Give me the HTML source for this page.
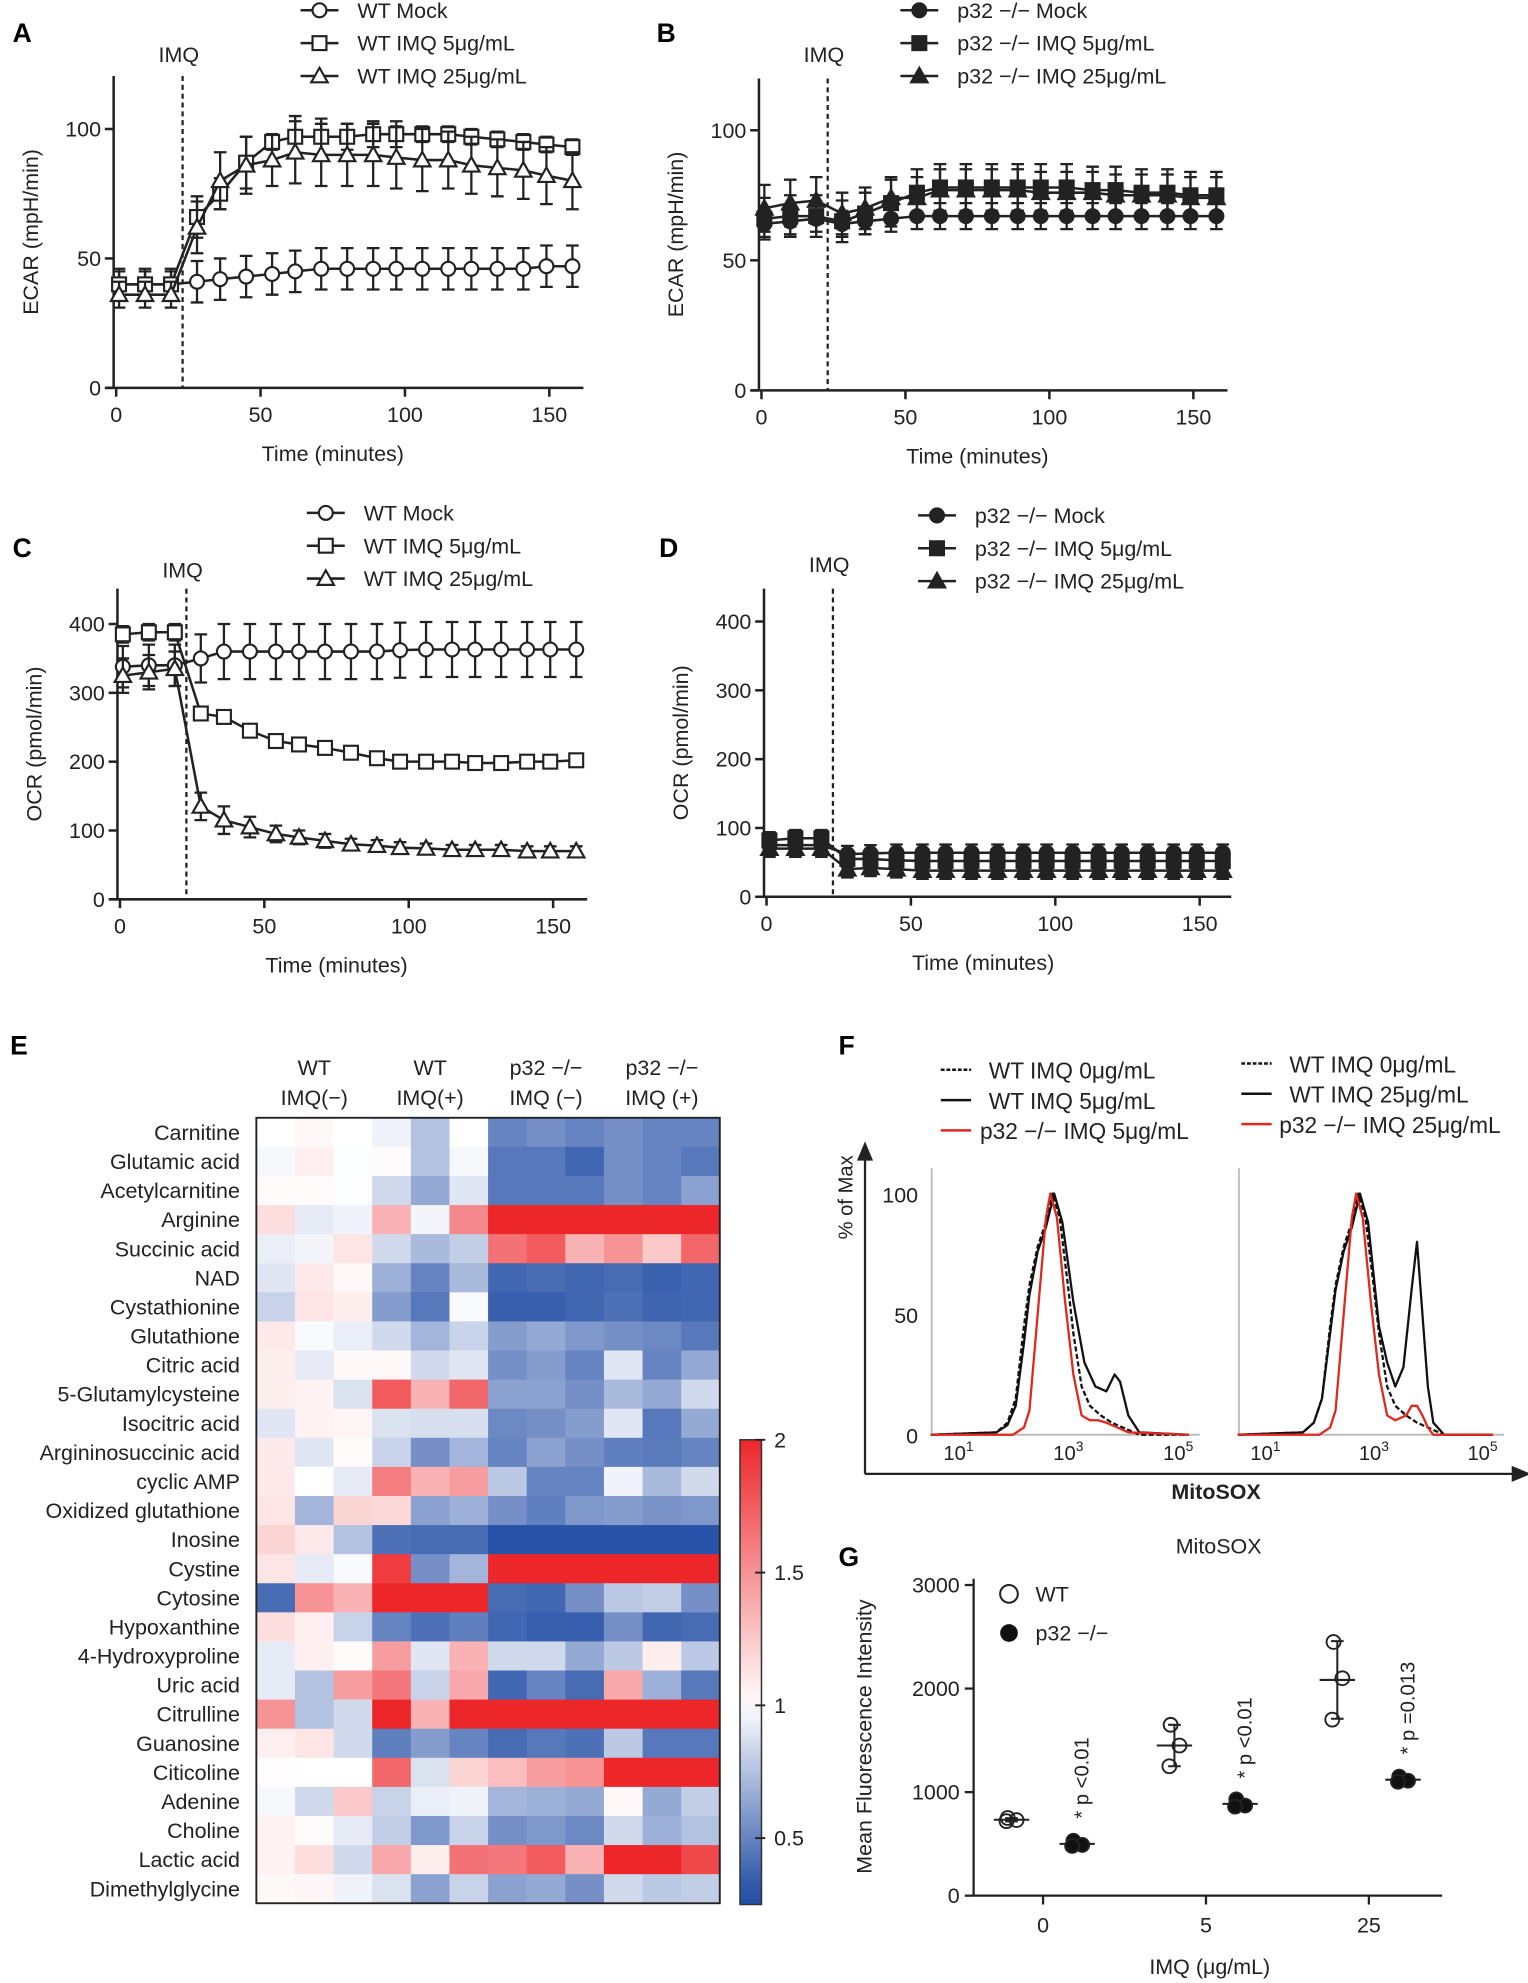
<!DOCTYPE html>
<html><head><meta charset="utf-8"><style>
html,body{margin:0;padding:0;background:#fff}
svg{display:block;font-family:"Liberation Sans",sans-serif}
</style></head><body>
<svg id="fig" width="1528" height="1983" viewBox="0 0 1210 1570" xmlns="http://www.w3.org/2000/svg">
</svg>
<script>
// ---------- DATA ----------
const times=[1,10,19,28,36,45,54,62,71,80,89,97,106,115,123,132,141,149,158];
const aMock=[40,40,40,41,42,43,44,45,46,46,46,46,46,46,46,46,46,47,47];
const aMockErr=[6,6,6,8,8,8,8,8,8,8,8,8,8,8,8,8,8,8,8];
const a5=[40,40,40,66,75,87,95,97,97,97,98,98,98,98,97,96,95,94,93];
const a5Err=[5,5,5,8,6,10,3,8,7,5,5,5,3,3,3,3,3,3,3];
const a25=[36,36,36,62,80,86,88,91,90,90,90,89,88,88,86,85,84,82,80];
const a25Err=[5,5,5,10,11,11,10,12,12,12,12,12,12,11,11,11,11,11,11];
const bMock=[64,65,66,64,65,66,67,67,67,67,67,67,67,67,67,67,67,67,67];
const bMockErr=[5,5,5,5,5,5,5,5,5,5,5,5,5,5,5,5,5,5,5];
const b5=[66,67,67,65,68,72,76,78,78,78,78,78,78,77,77,76,76,75,75];
const b5Err=[8,8,8,8,8,9,9,9,9,9,9,9,9,9,9,9,9,9,9];
const b25=[70,72,73,68,70,74,74,77,77,77,77,76,76,76,75,75,75,74,74];
const b25Err=[9,9,9,8,8,8,8,8,8,8,8,8,8,8,8,8,8,8,8];
const cMock=[338,340,340,350,360,360,360,360,360,360,360,362,363,363,363,363,363,363,363];
const cMockErr=[30,30,30,35,40,40,40,40,40,40,40,40,40,40,40,40,40,40,40];
const c5=[385,388,388,270,265,245,230,225,220,213,205,200,200,200,198,198,200,200,202];
const c5Err=[12,12,12,6,6,6,5,5,5,5,5,5,5,5,5,5,5,5,5];
const c25=[325,330,335,135,115,105,95,90,85,80,78,75,74,72,72,72,70,70,70];
const c25Err=[25,25,25,20,20,15,12,10,10,8,8,8,7,7,7,7,7,7,7];
const dMock=[75,75,75,62,63,64,64,64,64,64,64,64,64,64,64,64,64,64,64];
const d5=[82,85,85,55,55,53,52,52,52,52,52,52,52,52,52,52,52,52,52];
const d25=[70,70,70,40,42,40,38,38,38,38,38,38,38,38,38,38,38,38,38];
const dErr=[12,12,12,12,12,12,12,12,12,12,12,12,12,12,12,12,12,12,12];

const metabolites=["Carnitine","Glutamic acid","Acetylcarnitine","Arginine","Succinic acid","NAD","Cystathionine","Glutathione","Citric acid","5-Glutamylcysteine","Isocitric acid","Argininosuccinic acid","cyclic AMP","Oxidized glutathione","Inosine","Cystine","Cytosine","Hypoxanthine","4-Hydroxyproline","Uric acid","Citrulline","Guanosine","Citicoline","Adenine","Choline","Lactic acid","Dimethylglycine"];
const heat=[
[1.0,1.03,1.0,0.95,0.75,1.0,0.5,0.55,0.5,0.55,0.5,0.5],
[0.97,1.07,0.99,1.02,0.75,0.97,0.45,0.45,0.38,0.55,0.5,0.45],
[1.02,1.02,0.99,0.85,0.65,0.9,0.45,0.45,0.45,0.55,0.5,0.62],
[1.15,0.92,0.95,1.35,0.96,1.55,2,2,2,2,2,2],
[0.93,0.96,1.12,0.85,0.72,0.8,1.65,1.75,1.35,1.5,1.25,1.7],
[0.9,1.1,1.03,0.68,0.5,0.72,0.38,0.4,0.38,0.4,0.36,0.38],
[0.82,1.12,1.08,0.6,0.45,0.98,0.35,0.35,0.38,0.42,0.37,0.38],
[1.1,0.98,0.93,0.85,0.7,0.82,0.6,0.65,0.58,0.55,0.52,0.45],
[1.08,0.92,1.03,1.03,0.85,0.9,0.55,0.6,0.5,0.9,0.5,0.65],
[1.08,1.06,0.88,1.75,1.35,1.7,0.62,0.62,0.55,0.72,0.65,0.85],
[0.9,1.06,1.04,0.88,0.87,0.87,0.52,0.55,0.6,0.9,0.45,0.65],
[1.1,0.9,1.02,0.82,0.55,0.7,0.5,0.62,0.55,0.48,0.46,0.5],
[1.1,1.0,0.92,1.6,1.35,1.45,0.78,0.5,0.5,0.95,0.72,0.85],
[1.12,0.7,1.2,1.18,0.62,0.68,0.55,0.48,0.58,0.6,0.56,0.58],
[1.2,1.1,0.75,0.42,0.4,0.4,0.3,0.3,0.3,0.3,0.3,0.3],
[1.12,0.92,0.98,1.9,0.55,0.7,2,2,2,2,2,2],
[0.4,1.5,1.35,2,2,2,0.4,0.38,0.55,0.78,0.8,0.55],
[1.15,1.07,0.82,0.5,0.42,0.48,0.38,0.35,0.35,0.55,0.38,0.4],
[0.92,1.07,1.02,1.45,0.9,1.35,0.85,0.85,0.65,0.78,1.08,0.78],
[0.92,0.75,1.45,1.62,0.82,1.4,0.38,0.5,0.4,1.4,0.68,0.45],
[1.5,0.75,0.85,2,1.35,2,2,2,2,2,2,2],
[1.07,1.12,0.85,0.48,0.6,0.5,0.4,0.45,0.42,0.78,0.45,0.45],
[1.01,1.0,1.0,1.7,0.88,1.2,1.3,1.45,1.5,2,2,2],
[0.97,0.85,1.25,0.82,0.93,0.95,0.7,0.68,0.65,1.03,0.65,0.8],
[1.06,1.02,0.92,0.8,0.58,0.82,0.55,0.58,0.52,0.85,0.68,0.75],
[1.06,1.15,0.85,1.4,1.08,1.65,1.62,1.75,1.35,2,2,1.85],
[1.03,1.04,0.95,0.88,0.62,0.82,0.62,0.65,0.55,0.85,0.78,0.8]];
const colorbarTicks=[2,1.5,1,0.5];

const hDashLog=[0.4,1.6,1.8,1.95,2.1,2.2,2.35,2.5,2.62,2.75,2.9,3.0,3.15,3.3,3.5,3.7,3.9,4.2,5.1];
const hDashY=[0,1,5,15,45,62,78,88,100,90,62,42,20,12,8,5,3,0,0];
const h5Log=[0.4,1.6,1.8,1.95,2.1,2.2,2.35,2.5,2.65,2.8,3.0,3.2,3.4,3.6,3.75,3.85,4.0,4.2,5.1];
const h5Y=[0,1,4,12,38,58,76,86,100,88,55,30,20,18,25,22,8,1,0];
const hRed5Log=[0.4,1.9,2.1,2.2,2.35,2.5,2.58,2.7,2.85,3.0,3.15,3.3,3.45,3.6,3.8,4.0,5.1];
const hRed5Y=[0,0,3,10,50,90,100,90,55,25,8,6,6,5,3,1,0];
const h25Log=[0.4,1.6,1.8,1.95,2.1,2.2,2.35,2.5,2.65,2.8,3.0,3.15,3.3,3.45,3.6,3.7,3.8,3.9,4.0,4.2,5.1];
const h25Y=[0,1,5,15,42,60,76,86,100,88,45,30,20,28,60,80,50,20,5,0,0];
const hRed25Log=[0.4,1.9,2.1,2.2,2.35,2.5,2.58,2.7,2.85,3.0,3.15,3.3,3.5,3.6,3.7,3.8,3.9,4.0,5.1];
const hRed25Y=[0,0,3,10,50,90,100,90,55,25,8,6,8,12,12,8,3,0,0];

const gDoses=["0","5","25"];
const gWT=[[750,730,720],[1650,1450,1250],[2450,2100,1700]];
const gP32=[[530,490,480],[930,870,860],[1150,1110,1100]];
const gLabels=["p <0.01","p <0.01","p =0.013"];

// ---------- HELPERS ----------
const NS="http://www.w3.org/2000/svg";
const svg=document.getElementById('fig');
function mk(tag,attrs,parent){const e=document.createElementNS(NS,tag);for(const k in attrs)e.setAttribute(k,attrs[k]);(parent||svg).appendChild(e);return e;}
function txt(x,y,s,size,anchor,extra,parent){const e=mk('text',Object.assign({x:x,y:y,'font-size':size,'text-anchor':anchor||'start',fill:'#222'},extra||{}),parent);e.textContent=s;return e;}

[["A",10,33],["B",520,33],["C",10,441],["D",522,441],["E",8,835],["F",664,835],["G",664,1240]].forEach(p=>{
 const e=txt(p[1],p[2],p[0],21,'start',{'font-weight':'bold',fill:'#000'});
 
 
});

function marker(g,kind,filled,x,y){
 const f=filled?'#222':'#fff';let e;
 if(kind==='c')e=mk('circle',{cx:x,cy:y,r:5.5,fill:f,stroke:'#222','stroke-width':1.7},g);
 else if(kind==='s')e=mk('rect',{x:x-5.5,y:y-5.5,width:11,height:11,fill:f,stroke:'#222','stroke-width':1.7},g);
 else e=mk('path',{d:`M${x},${y-6.5} L${x+6.5},${y+5} L${x-6.5},${y+5} Z`,fill:f,stroke:'#222','stroke-width':1.7},g);
 return e;
}

function lineChart(c){
 const g=mk('g',{});
 
 
 const X=t=>c.x0+(c.x150-c.x0)*t/150;
 const Y=v=>c.y0+(c.yTop-c.y0)*v/c.vTop;
 const ya=mk('line',{x1:c.x0-2,y1:c.axTop,x2:c.x0-2,y2:c.y0,stroke:'#222','stroke-width':2},g);
 
 
 const xa=mk('line',{x1:c.x0-8,y1:c.y0,x2:c.xEnd,y2:c.y0,stroke:'#222','stroke-width':2},g);
 
 
 c.yTicks.forEach(v=>{mk('line',{x1:c.x0-9,y1:Y(v),x2:c.x0-2,y2:Y(v),stroke:'#222','stroke-width':2},g);
  const t=txt(c.x0-12,Y(v)+6,String(v),17,'end',{},g);
  
  });
 [0,50,100,150].forEach(v=>{mk('line',{x1:X(v),y1:c.y0,x2:X(v),y2:c.y0+7,stroke:'#222','stroke-width':2},g);
  const t=txt(X(v),c.y0+27,String(v),17,'middle',{},g);
  
  });
 const xl=txt((X(0)+X(150))/2,c.y0+58,'Time (minutes)',17,'middle',{},g);
 
 
 const cy=(c.axTop+c.y0)/2;
 const yl=txt(c.x0-62,cy,c.ylabel,17,'middle',{transform:`rotate(-90 ${c.x0-62} ${cy})`},g);
 
 
 const il=mk('line',{x1:X(23),y1:c.axTop,x2:X(23),y2:c.y0,stroke:'#222','stroke-width':1.8,'stroke-dasharray':'4,3'},g);
 
 
 const it=txt(X(23)-3,c.imqY,'IMQ',17,'middle',{},g);
 
 
 c.series.forEach((s,si)=>{
  const sg=mk('g',{},g);
  
  
  s.err.forEach((e,i)=>{const x=X(times[i]);
   mk('path',{d:`M${x},${Y(s.v[i]-e)}V${Y(s.v[i]+e)}M${x-5},${Y(s.v[i]-e)}h10M${x-5},${Y(s.v[i]+e)}h10`,stroke:'#222','stroke-width':1.8,fill:'none'},sg);});
  const p=mk('polyline',{points:s.v.map((v,i)=>X(times[i])+','+Y(v)).join(' '),fill:'none',stroke:'#222','stroke-width':2},sg);
  
  
  s.v.forEach((v,i)=>{const m=marker(sg,s.m,c.filled,X(times[i]),Y(v));
   
   });
  const ly=c.legY+si*26;
  const lg=mk('g',{},g);
  
  
  mk('line',{x1:c.legX,y1:ly,x2:c.legX+30,y2:ly,stroke:'#222','stroke-width':2},lg);
  marker(lg,s.m,c.filled,c.legX+15,ly);
  txt(c.legX+45,ly+6,s.label,17,'start',{},lg);
 });
}

lineChart({name:'panel-a-ecar-wt',x0:92,x150:435,y0:307,yTop:102,vTop:100,axTop:60,xEnd:462,yTicks:[0,50,100],ylabel:'ECAR (mpH/min)',imqY:49,filled:false,legX:238,legY:8,
 series:[{key:'mock',v:aMock,err:aMockErr,m:'c',label:'WT Mock'},{key:'imq5',v:a5,err:a5Err,m:'s',label:'WT IMQ 5μg/mL'},{key:'imq25',v:a25,err:a25Err,m:'t',label:'WT IMQ 25μg/mL'}]});
lineChart({name:'panel-b-ecar-p32',x0:603,x150:945,y0:309,yTop:103,vTop:100,axTop:62,xEnd:972,yTicks:[0,50,100],ylabel:'ECAR (mpH/min)',imqY:49,filled:true,legX:713,legY:8,
 series:[{key:'mock',v:bMock,err:bMockErr,m:'c',label:'p32 −/− Mock'},{key:'imq5',v:b5,err:b5Err,m:'s',label:'p32 −/− IMQ 5μg/mL'},{key:'imq25',v:b25,err:b25Err,m:'t',label:'p32 −/− IMQ 25μg/mL'}]});
lineChart({name:'panel-c-ocr-wt',x0:95,x150:438,y0:712,yTop:494,vTop:400,axTop:466,xEnd:465,yTicks:[0,100,200,300,400],ylabel:'OCR (pmol/min)',imqY:457,filled:false,legX:243,legY:406,
 series:[{key:'mock',v:cMock,err:cMockErr,m:'c',label:'WT Mock'},{key:'imq5',v:c5,err:c5Err,m:'s',label:'WT IMQ 5μg/mL'},{key:'imq25',v:c25,err:c25Err,m:'t',label:'WT IMQ 25μg/mL'}]});
lineChart({name:'panel-d-ocr-p32',x0:607,x150:950,y0:710,yTop:492,vTop:400,axTop:466,xEnd:975,yTicks:[0,100,200,300,400],ylabel:'OCR (pmol/min)',imqY:453,filled:true,legX:727,legY:408,
 series:[{key:'mock',v:dMock,err:dErr,m:'c',label:'p32 −/− Mock'},{key:'imq5',v:d5,err:dErr,m:'s',label:'p32 −/− IMQ 5μg/mL'},{key:'imq25',v:d25,err:dErr,m:'t',label:'p32 −/− IMQ 25μg/mL'}]});

// ---------- HEATMAP ----------
function heatColor(v){
 const W=[255,255,255],R=[237,38,42],B=[35,78,165];
 let t,C;
 if(v>=1){t=Math.min(1,(v-1)/1);C=R;}else{t=Math.min(1,(1-v)/0.72);C=B;}
 const c=W.map((w,i)=>Math.round(w+(C[i]-w)*t));
 return `rgb(${c[0]},${c[1]},${c[2]})`;
}
(function(){
 const g=mk('g',{});
 
 
 const hx0=203,hx1=570,hy0=885,hy1=1507;
 const cw=(hx1-hx0)/12,rh=(hy1-hy0)/metabolites.length;
 heat.forEach((row,r)=>row.forEach((v,c)=>{
  const e=mk('rect',{x:hx0+c*cw,y:hy0+r*rh,width:cw+0.5,height:rh+0.5,fill:heatColor(v)},g);
  
  
 }));
 mk('rect',{x:hx0,y:hy0,width:hx1-hx0,height:hy1-hy0,fill:'none',stroke:'#222','stroke-width':1.5},g);
 metabolites.forEach((m,r)=>{const t=txt(190,hy0+r*rh+rh/2+6,m,17,'end',{},g);
  
  });
 [["WT","IMQ(−)"],["WT","IMQ(+)"],["p32 −/−","IMQ (−)"],["p32 −/−","IMQ (+)"]].forEach((h,i)=>{
  const cx=hx0+(i*3+1.5)*cw;
  const t1=txt(cx,851,h[0],17,'middle',{},g);
  
  
  txt(cx,875,h[1],17,'middle',{},g);
 });
 const defs=mk('defs',{},g);
 const lg=mk('linearGradient',{id:'cb',x1:0,y1:1,x2:0,y2:0},defs);
 const cbMin=0.25,cbMax=2;
 for(let k=0;k<=20;k++){const v=cbMin+(cbMax-cbMin)*k/20;mk('stop',{offset:k/20,'stop-color':heatColor(v)},lg);}
 const cy0=1508,cy1=1140;
 const cb=mk('rect',{x:586,y:cy1,width:17,height:cy0-cy1,fill:'url(#cb)',stroke:'#333','stroke-width':1.2},g);
 
 
 colorbarTicks.forEach(v=>{const y=cy0+(cy1-cy0)*(v-cbMin)/(cbMax-cbMin);
  mk('line',{x1:598,y1:y,x2:606,y2:y,stroke:'#222','stroke-width':1.5},g);
  const t=txt(613,y+6,String(v),17,'start',{},g);
  
  });
})();

// ---------- HISTOGRAMS (F) ----------
(function(){
 const g=mk('g',{});
 
 
 mk('path',{d:'M685,1167 V912 M680,918 L685,906 L690,918 Z',stroke:'#222','stroke-width':1.8,fill:'#222'},g);
 mk('path',{d:'M685,1167 H1204 M1198,1162 L1210,1167 L1198,1172 Z',stroke:'#222','stroke-width':1.8,fill:'#222'},g);
 const yl=txt(675,948,'% of Max',16,'middle',{transform:'rotate(-90 675 948)'},g);
 
 
 const xl=txt(963,1187,'MitoSOX',17,'middle',{'font-weight':'bold'},g);
 
 
 const Y=v=>1136-v*1.91;
 [0,50,100].forEach(v=>{const t=txt(727,Y(v)+7,String(v),17,'end',{},g);
  
  });
 const panels=[{x1:763,dec:43.5,curves:[[hDashLog,hDashY,'#111','4,2'],[h5Log,h5Y,'#111',null],[hRed5Log,hRed5Y,'#e0281e',null]],legX:745,legY:847,labels:['WT IMQ 0μg/mL','WT IMQ 5μg/mL','p32 −/−  IMQ 5μg/mL'],txtX:[783,783,776]},
  {x1:1006,dec:43,curves:[[hDashLog,hDashY,'#111','4,2'],[h25Log,h25Y,'#111',null],[hRed25Log,hRed25Y,'#e0281e',null]],legX:983,legY:842,labels:['WT IMQ 0μg/mL','WT IMQ 25μg/mL','p32 −/−  IMQ 25μg/mL'],txtX:[1021,1021,1013]}];
 panels.forEach((p,pi)=>{
  const X=l=>p.x1+p.dec*(l-1);
  mk('line',{x1:X(0.42),y1:925,x2:X(0.42),y2:Y(0),stroke:'#bbb','stroke-width':1.5},g);
  mk('line',{x1:X(0.42),y1:Y(0),x2:X(5.3),y2:Y(0),stroke:'#bbb','stroke-width':1.5},g);
  [1,3,5].forEach(d=>{const t=mk('text',{x:X(d)-4,y:1156,'font-size':16,'text-anchor':'middle',fill:'#222'},g);
   
   
   t.innerHTML='10<tspan dy="-7" font-size="11">'+d+'</tspan>';});
  p.curves.forEach((c,ci)=>{
   const pts=c[0].map((l,i)=>X(l)+','+Y(c[1][i])).join(' ');
   const e=mk('polyline',{points:pts,fill:'none',stroke:c[2],'stroke-width':1.8,'stroke-dasharray':c[3]||'none','stroke-linejoin':'round'},g);
   
   
   const ly=p.legY+ci*24;
   mk('line',{x1:p.legX,y1:ly,x2:p.legX+24,y2:ly,stroke:c[2],'stroke-width':2,'stroke-dasharray':c[3]?'3,1.5':'none'},g);
   const t=txt(p.txtX[ci],ly+7,p.labels[ci],18,'start',{},g);
   
   
  });
 });
})();

// ---------- DOT PLOT (G) ----------
(function(){
 const g=mk('g',{});
 
 
 const Y=v=>1501-v*0.082;
 const catX=[826,955,1084];
 mk('line',{x1:771,y1:1250,x2:771,y2:1501,stroke:'#222','stroke-width':1.8},g);
 mk('line',{x1:771,y1:1501,x2:1142,y2:1501,stroke:'#222','stroke-width':1.8},g);
 [0,1000,2000,3000].forEach(v=>{mk('line',{x1:764,y1:Y(v),x2:771,y2:Y(v),stroke:'#222','stroke-width':1.8},g);
  const t=txt(760,Y(v)+6,String(v),17,'end',{},g);
  
  });
 gDoses.forEach((d,i)=>{mk('line',{x1:catX[i],y1:1501,x2:catX[i],y2:1508,stroke:'#222','stroke-width':1.8},g);
  const t=txt(catX[i],1530,d,17,'middle',{},g);
  
  });
 const xt=txt(958,1563,'IMQ (μg/mL)',17,'middle',{},g);
 
 
 txt(965,1230,'MitoSOX',17,'middle',{},g);
 const yl=txt(690,1375,'Mean Fluorescence Intensity',17,'middle',{transform:'rotate(-90 690 1375)'},g);
 
 
 mk('circle',{cx:799,cy:1262,r:7,fill:'#fff',stroke:'#222','stroke-width':1.6},g);
 txt(820,1268,'WT',17,'start',{},g);
 mk('circle',{cx:799,cy:1293,r:7,fill:'#111'},g);
 txt(820,1299,'p32 −/−',17,'start',{},g);
 function group(vals,x,filled){
  const m=vals.reduce((a,b)=>a+b,0)/vals.length;
  const sd=Math.sqrt(vals.reduce((a,b)=>a+(b-m)*(b-m),0)/(vals.length-1));
  mk('path',{d:`M${x-14},${Y(m)}h28M${x},${Y(m-sd)}V${Y(m+sd)}M${x-5},${Y(m-sd)}h10M${x-5},${Y(m+sd)}h10`,stroke:'#222','stroke-width':1.6,fill:'none'},g);
  vals.forEach((v,k)=>{const dx=[-3,4,-4][k];
   const c=mk('circle',{cx:x+dx,cy:Y(v),r:5.5,fill:filled?'#111':'none',stroke:'#222','stroke-width':1.5},g);
   
   });
  return m;
 }
 gDoses.forEach((d,i)=>{
  group(gWT[i],catX[i]-25,false);
  const m=group(gP32[i],catX[i]+27,true);
  const ax=catX[i]+36, ay=Y(m)-20;
  const t=txt(ax,ay,'*  '+gLabels[i],16,'start',{transform:`rotate(-90 ${ax} ${ay})`},g);
  
  
 });
})();
</script>
</body></html>
